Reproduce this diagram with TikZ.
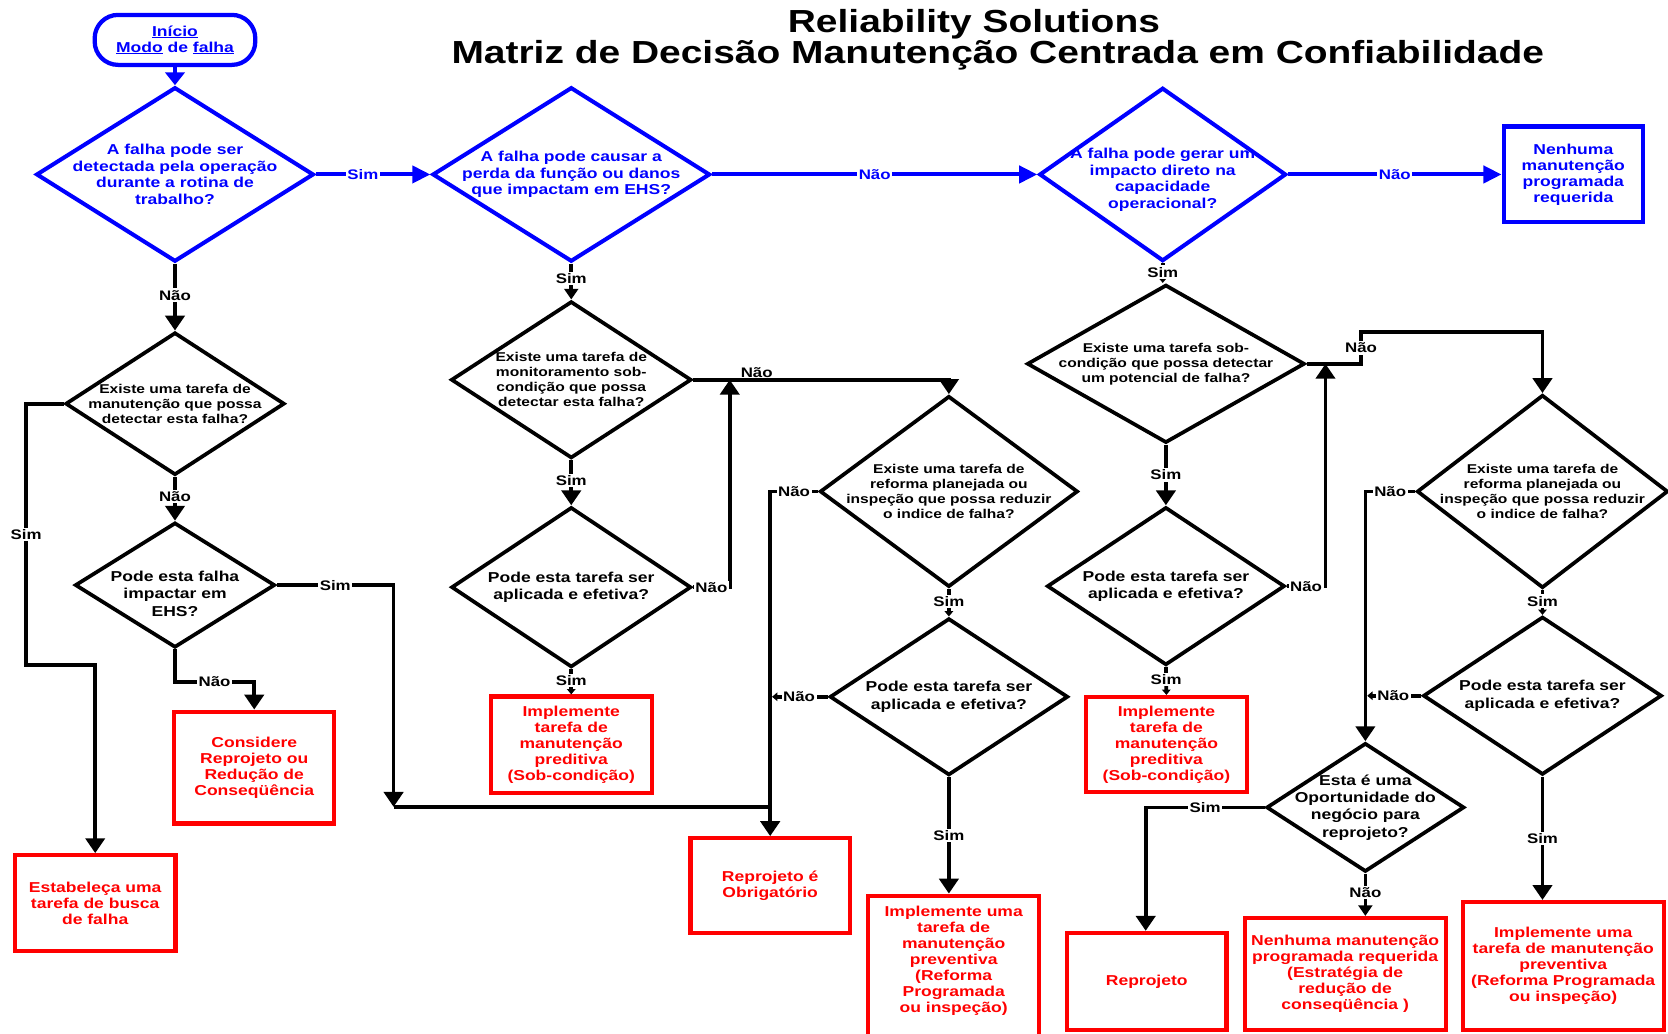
\documentclass[tikz,border=0pt]{standalone}
\usepackage{fontspec}
\usetikzlibrary{shapes.geometric, arrows.meta}

\newfontfamily\wideb{Liberation Sans}[FakeStretch=1.22]
\newcommand{\txtfont}[2]{\wideb\bfseries\fontsize{#1}{#2}\selectfont}
\definecolor{rblue}{RGB}{0,0,255}
\definecolor{rred}{RGB}{255,0,0}

\begin{document}
\begin{tikzpicture}[x=1pt, y=-1pt,
    ttl/.style={font=\txtfont{30}{34}, anchor=base},
    lbl/.style={font=\txtfont{13}{13}, fill=white, inner sep=1.5pt},
    blbl/.style={lbl, text=rblue},
    btxt/.style={font=\txtfont{13.5}{15.7}, text=rblue, align=center},
    qtxt/.style={font=\txtfont{12}{14.1}, align=center},
    qtxtl/.style={font=\txtfont{13.5}{16.3}, align=center},
    startbox/.style={rectangle, rounded corners=22pt, draw=rblue, line width=4pt,
        minimum width=151pt, minimum height=47pt, text=rblue, align=center,
        font=\txtfont{13.5}{15}},
    bdia/.style 2 args={diamond, draw=rblue, line width=3.8pt,
        minimum width=#1pt, minimum height=#2pt, inner sep=0pt},
    kdia/.style 2 args={diamond, draw, line width=3.5pt,
        minimum width=#1pt, minimum height=#2pt, inner sep=0pt},
    bbox/.style 2 args={rectangle, draw=rblue, line width=4pt, text=rblue,
        minimum width=#1pt, minimum height=#2pt, inner sep=2pt, align=center,
        font=\txtfont{13.5}{15}},
    rbox/.style 2 args={rectangle, draw=rred, line width=4pt, text=rred,
        minimum width=#1pt, minimum height=#2pt, inner sep=2pt, align=center,
        font=\txtfont{13.5}{15}},
    conn/.style={line width=3.5pt},
    bconn/.style={line width=3.8pt, draw=rblue},
    arr/.style={-{Triangle[width=18pt,length=14pt]}},
    arrm/.style={-{Triangle[width=13pt,length=10pt]}},
    arrs/.style={-{Triangle[width=8pt,length=5pt]}},
    barr/.style={-{Triangle[width=16pt,length=17pt]}}]

  \useasboundingbox (0,0) rectangle (1568,972);

  % title
  \node[ttl] (t1) at (915.5,30.5) {Reliability Solutions};
  \node[ttl] (t2) at (938,60) {Matriz de Decisão Manutenção Centrada em Confiabilidade};

  % blue row
  \node[startbox] (ini) at (164.5,37.5) {\underline{Início}\\\underline{Modo} de \underline{falha}};
  \node[bdia={261}{164}, label={[btxt]center:A falha pode ser\\detectada pela operação\\durante a rotina de\\trabalho?}] (D1) at (164.5,164) {};
  \node[bdia={261}{164}, label={[btxt]center:A falha pode causar a\\perda da função ou danos\\que  impactam em EHS?}] (D2) at (537,164) {};
  \node[bdia={232}{163}, label={[btxt, yshift=-5pt]center:A falha pode gerar um\\impacto direto na\\capacidade\\operacional?}] (D3) at (1093,164) {};
  \node[bbox={131}{90}] (B0) at (1479,164) {Nenhuma\\manutenção\\programada\\requerida};

  % black questions
  \node[kdia={206}{134}, label={[qtxt]center:Existe uma tarefa de\\manutenção que possa\\detectar esta falha?}] (D4) at (164.5,379.5) {};
  \node[kdia={188}{117.5}, label={[qtxtl, yshift=-8pt]center:Pode esta falha\\impactar em\\EHS?}] (D5) at (164.5,550) {};
  \node[kdia={226}{147.5}, label={[qtxt]center:Existe uma tarefa de\\monitoramento sob-\\condição que possa\\detectar esta falha?}] (D6) at (537,357) {};
  \node[kdia={225.5}{150.5}, label={[qtxtl]center:Pode esta tarefa ser\\aplicada e efetiva?}] (D7) at (537,552) {};
  \node[kdia={242.5}{179.5}, label={[qtxt]center:Existe uma tarefa de\\reforma planejada ou\\inspeção que possa reduzir\\o indice de falha?}] (D8) at (892,462) {};
  \node[kdia={224}{147.5}, label={[qtxtl]center:Pode esta tarefa ser\\aplicada e efetiva?}] (D9) at (892,655) {};
  \node[kdia={261}{148.6}, label={[qtxt]center:Existe uma tarefa sob-\\condição que possa detectar\\um potencial de falha?}] (D10) at (1096,342) {};
  \node[kdia={223.5}{148.5}, label={[qtxtl]center:Pode esta tarefa ser\\aplicada e efetiva?}] (D11) at (1096,551) {};
  \node[kdia={236}{181.5}, label={[qtxt]center:Existe uma tarefa de\\reforma planejada ou\\inspeção que possa reduzir\\o indice de falha?}] (D12) at (1450,462) {};
  \node[kdia={186}{121}, label={[qtxtl]center:Esta é uma\\Oportunidade do\\negócio para\\reprojeto?}] (D13) at (1283.5,759) {};
  \node[kdia={224.4}{148.5}, label={[qtxtl]center:Pode esta tarefa ser\\aplicada e efetiva?}] (D14) at (1450,654) {};

  % red outcomes
  \node[rbox={151}{90}] (R1) at (89.5,849) {Estabeleça uma\\tarefa de busca\\de falha};
  \node[rbox={150.5}{105}] (R2) at (239,721.5) {Considere\\Reprojeto ou\\Redução de\\Conseqüência};
  \node[rbox={151.5}{90.5}] (R3) at (537,700) {Implemente\\tarefa de\\manutenção\\preditiva\\(Sob-condição)};
  \node[rbox={150}{89}] (R4) at (724,832.5) {Reprojeto é\\Obrigatório};
  \node[rbox={161}{150}, anchor=north] (R5) at (896.5,840) {Implemente  uma\\tarefa de\\manutenção\\preventiva\\(Reforma\\Programada\\ou inspeção)\\~\\~};
  \node[rbox={151}{89.5}] (R6) at (1096.5,700) {Implemente\\tarefa de\\manutenção\\preditiva\\(Sob-condição)};
  \node[rbox={150}{91}] (R7) at (1078,922.5) {Reprojeto};
  \node[rbox={189}{105}] (R8) at (1264.5,915.5) {Nenhuma manutenção\\programada requerida\\(Estratégia de\\redução de\\conseqüência )};
  \node[rbox={189}{120}] (R9) at (1469.5,908) {Implemente  uma\\tarefa de manutenção\\preventiva\\(Reforma Programada\\ou inspeção)};

  % bends
  \coordinate (cA1) at (24.5,625);
  \coordinate (cA2) at (89.5,625);
  \coordinate (cB1) at (370,550);
  \coordinate (cB2) at (370,758.5);
  \coordinate (cB3) at (724,758.5);
  \coordinate (cC1) at (239,641);
  \coordinate (cD1) at (686,552);
  \coordinate (cF1) at (724,462);
  \coordinate (cG1) at (1246,551);
  \coordinate (cH1) at (1279.5,342);
  \coordinate (cH2) at (1279.5,312);
  \coordinate (cI1) at (1283.5,462);
  \coordinate (cJ1) at (1077,759);

  % blue connectors
  \draw[bconn, -{Triangle[width=18pt,length=12pt]}] (ini.south) -- (D1.north);
  \draw[bconn, barr] (D1.east) -- node[blbl, pos=0.41] {Sim} (D2.west);
  \draw[bconn, barr] (D2.east) -- node[blbl] {Não} (D3.west);
  \draw[bconn, barr] (D3.east) -- node[blbl] {Não} (B0.west);

  % left column
  \draw[conn, arr] (D1.south) -- node[lbl, pos=0.47] {Não} (D4.north);
  \draw[conn, arr] (D4.south) -- node[lbl, pos=0.45] {Não} (D5.north);
  \draw[conn, arr] (D4.west) -| node[lbl, pos=0.75] {Sim} (cA1) -- (cA2) -- (R1.north);
  \draw[conn, arr] (D5.east) -- node[lbl] {Sim} (cB1) -- (cB2);
  \draw[conn] (cB2) -- (cB3);
  \draw[conn, arr] (D5.south) |- node[lbl, pos=0.75] {Não} (cC1) -- (R2.north);

  % second column
  \draw[conn, arrm] (D2.south) -- node[lbl, pos=0.42] {Sim} (D6.north);
  \draw[conn, arr] (D6.south) -- node[lbl, pos=0.45] {Sim} (D7.north);
  \draw[conn, arrs] (D7.south) -- node[lbl, pos=0.45] {Sim} (R3.north);
  \draw[conn, arr] (D7.east) -- node[lbl] {Não} (cD1) -- (cD1 |- D6.east);
  \draw[conn, arr] (D6.east) -| node[pos=0.124, font=\txtfont{13}{13}, anchor=base, yshift=2.5pt] {Não} (D8.north);

  % third column
  \draw[conn, arr] (D8.west) -- node[lbl] {Não} (cF1) -- (R4.north);
  \draw[conn, arrs] (D8.south) -- node[lbl, pos=0.45] {Sim} (D9.north);
  \draw[conn, arrs, shorten >=1.75pt] (D9.west) -- node[lbl] {Não} (cF1 |- D9.west);
  \draw[conn, arr] (D9.south) -- node[lbl] {Sim} (D9.south |- R5.north);

  % fourth column
  \draw[conn, arrs] (D3.south) -- node[lbl, pos=0.45] {Sim} (D3.south |- D10.north);
  \draw[conn, arr] (D10.south) -- node[lbl] {Sim} (D11.north);
  \draw[conn, arrs] (D11.south) -- node[lbl, pos=0.45] {Sim} (R6.north);
  \draw[conn, arr] (D11.east) -- node[lbl] {Não} (cG1) -- (cG1 |- D10.east);
  \draw[conn, arr] (D10.east) -- (cH1) -- node[lbl] {Não} (cH2) -| (D12.north);

  % right column
  \draw[conn, arr] (D12.west) -- node[lbl] {Não} (cI1) -- (D13.north);
  \draw[conn, arrs] (D12.south) -- node[lbl, pos=0.45] {Sim} (D14.north);
  \draw[conn, arrs, shorten >=1.75pt] (D14.west) -- node[lbl] {Não} (cI1 |- D14.west);
  \draw[conn, arr] (D14.south) -- node[lbl] {Sim} (D14.south |- R9.north);
  \draw[conn, arr] (D13.west) -- node[lbl] {Sim} (cJ1) -- (cJ1 |- R7.north);
  \draw[conn, arrm] (D13.south) -- node[lbl, pos=0.45] {Não} (D13.south |- R8.north);
\end{tikzpicture}
\end{document}
